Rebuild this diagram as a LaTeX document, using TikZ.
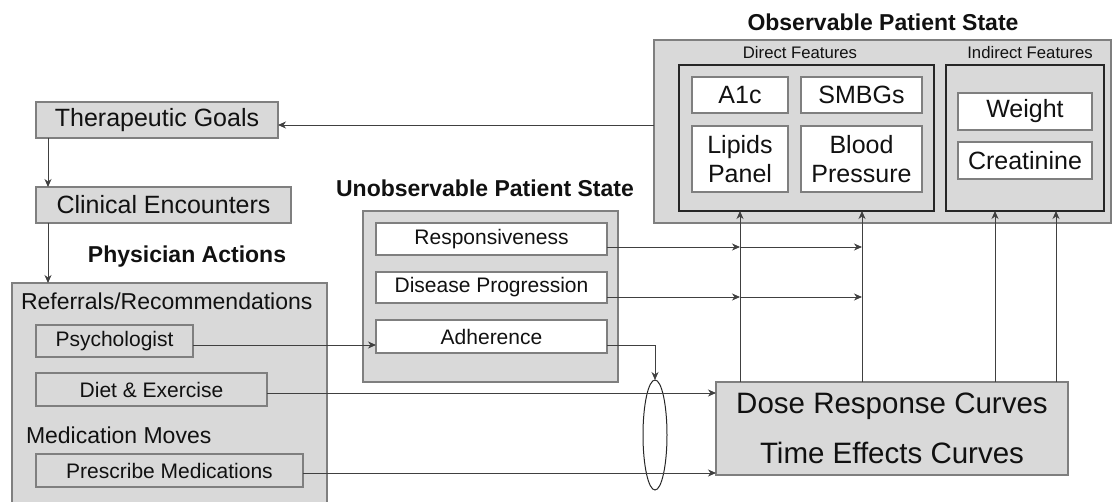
\documentclass[tikz,border=0pt]{standalone}
\usepackage{fontspec}
\setmainfont{Liberation Sans}
\usetikzlibrary{arrows.meta,calc,shapes.geometric}
\definecolor{boxfill}{HTML}{D9D9D9}
\definecolor{boxline}{HTML}{7F7F7F}
\definecolor{darkline}{HTML}{262626}
\definecolor{conn}{HTML}{404040}
\definecolor{txt}{HTML}{111111}
\begin{document}
\begin{tikzpicture}[x=1pt,y=-1pt,
  every node/.style={text=txt, inner sep=0pt, outer sep=0pt},
  graybox/.style={draw=boxline, fill=boxfill, line width=1.2pt},
  whitebox/.style={draw=boxline, fill=white, line width=1.2pt},
  groupbox/.style={draw=darkline, fill=boxfill, line width=2pt},
  arr/.style={draw=conn, line width=0.9pt, -{Stealth[length=8pt,width=7pt,inset=2.5pt]}},
  fbig/.style={font=\fontsize{25}{29}\selectfont},
  fmid/.style={font=\fontsize{23}{27}\selectfont},
  fsmall/.style={font=\fontsize{21}{25}\selectfont},
  ftiny/.style={font=\fontsize{16.7}{20}\selectfont},
  ftitle/.style={font=\fontsize{23}{27}\selectfont\bfseries},
]
\useasboundingbox (0,0) rectangle (1112,502);

% ---------- Observable patient state ----------
\node[ftitle] (obstitle) at (883,22) {Observable Patient State};
\node[draw=boxline, fill=boxfill, line width=1.5pt, minimum width=457, minimum height=183] (obs) at (882.5,131.5) {};
\node[ftiny] (dirlab) at (800,53) {Direct Features};
\node[ftiny] (indlab) at (1030,53) {Indirect Features};
\node[groupbox, minimum width=255, minimum height=146] (direct) at (806.5,138) {};
\node[groupbox, minimum width=158, minimum height=146] (indirect) at (1025,138) {};
\node[whitebox, fbig, minimum width=96, minimum height=36] (a1c) at (740,95) {A1c};
\node[whitebox, fbig, minimum width=121, minimum height=36] (smbg) at (861.5,95) {SMBGs};
\node[whitebox, fbig, align=center, minimum width=96, minimum height=66] (lipids) at (740,159) {Lipids\\Panel};
\node[whitebox, fbig, align=center, minimum width=121, minimum height=66] (bp) at (861.5,159) {Blood\\Pressure};
\node[whitebox, fbig, minimum width=134, minimum height=37] (weight) at (1025,111.5) {Weight};
\node[whitebox, fbig, minimum width=134, minimum height=37] (creat) at (1025,160.5) {Creatinine};

% ---------- Left column ----------
\node[graybox, fbig, minimum width=242, minimum height=36] (tg) at (157,120) {Therapeutic Goals};
\node[graybox, fbig, minimum width=255, minimum height=36] (ce) at (163.5,205) {Clinical Encounters};
\node[ftitle] (patitle) at (187,257) {Physician Actions};
\node[graybox, minimum width=315, minimum height=227] (pa) at (169.5,396.5) {};
\node[fmid, anchor=west] (reflab) at (21,301) {Referrals/Recommendations};
\node[graybox, fsmall, minimum width=157, minimum height=32] (psych) at (114.5,341) {Psychologist};
\node[graybox, fsmall, minimum width=231, minimum height=33] (diet) at (151.5,389.5) {Diet \& Exercise};
\node[fmid, anchor=west] (medlab) at (26,435) {Medication Moves};
\node[graybox, fsmall, minimum width=267, minimum height=33] (presc) at (169.5,470.5) {Prescribe Medications};

% ---------- Unobservable patient state ----------
\node[ftitle] (untitle) at (485,188) {Unobservable Patient State};
\node[graybox, minimum width=255, minimum height=171] (unobs) at (490.5,296.5) {};
\node[whitebox, fsmall, minimum width=231, minimum height=32] (resp) at (491.5,239) {Responsiveness};
\node[whitebox, fsmall, minimum width=231, minimum height=31] (dis) at (491.5,287.5) {Disease Progression};
\node[whitebox, fsmall, minimum width=231, minimum height=33] (adh) at (491.5,336.5) {Adherence};

% ---------- Dose response ----------
\node[graybox, align=center, font=\fontsize{29.5}{50}\selectfont, minimum width=352, minimum height=93] (dose) at (892,428.5) {Dose Response Curves\\Time Effects Curves};
\node[draw=darkline, line width=1pt, ellipse, minimum width=24, minimum height=110] (ell) at (655,435) {};

% ---------- Connectors ----------
\coordinate (v1) at (740,0);
\coordinate (v2) at (862,0);
\coordinate (v3) at (995,0);
\coordinate (v4) at (1056,0);

\coordinate (t0) at ($(tg.east)+(0,5)$);
\draw[arr] (t0 -| obs.west) -- (t0);

\coordinate (c0) at ($(tg.south west)+(12,0)$);
\draw[arr] (c0) -- (c0 |- ce.north);
\coordinate (c1) at ($(ce.south west)+(12,0)$);
\draw[arr] (c1) -- (c1 |- pa.north);

\coordinate (p0) at ($(psych.east)+(0,4)$);
\draw[arr] (p0) -- (p0 -| adh.west);

\coordinate (a0) at ($(adh.east)+(0,8.5)$);
\draw[arr] (a0) -| (ell.north);

\coordinate (d0) at ($(diet.east)+(0,3.5)$);
\draw[arr] (d0) -- (d0 -| dose.west);
\coordinate (m0) at ($(presc.east)+(0,2.5)$);
\draw[arr] (m0) -- (m0 -| dose.west);

\coordinate (r0) at ($(resp.east)+(0,8)$);
\draw[arr] (r0) -- (r0 -| v1);
\draw[arr] (r0 -| v1) -- (r0 -| v2);
\coordinate (s0) at ($(dis.east)+(0,9.5)$);
\draw[arr] (s0) -- (s0 -| v1);
\draw[arr] (s0 -| v1) -- (s0 -| v2);

\draw[arr] (dose.north -| v1) -- (direct.south -| v1);
\draw[arr] (dose.north -| v2) -- (direct.south -| v2);
\draw[arr] (dose.north -| v3) -- (indirect.south -| v3);
\draw[arr] (dose.north -| v4) -- (indirect.south -| v4);
\end{tikzpicture}
\end{document}
